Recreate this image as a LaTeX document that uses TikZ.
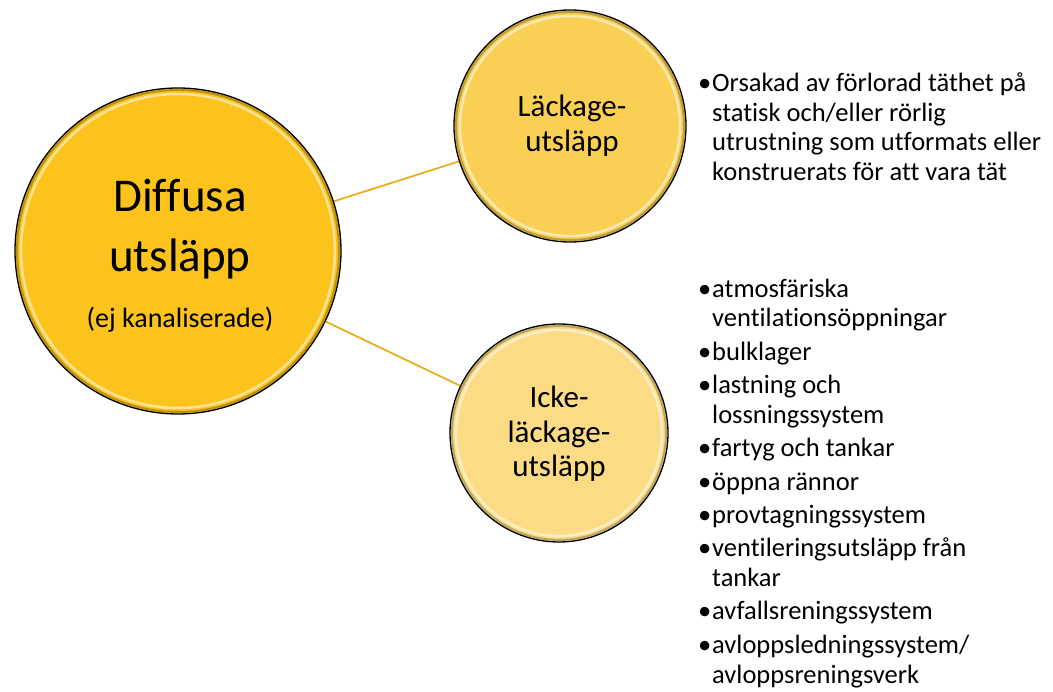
\documentclass[tikz,border=0pt]{standalone}
\usepackage{fontspec}
\setmainfont{Carlito}[Ligatures={NoCommon,NoContextual}]
\definecolor{bigc}{HTML}{FBC31B}
\definecolor{topc}{HTML}{F9CF54}
\definecolor{botc}{HTML}{FBDB84}
\definecolor{linec}{HTML}{E6B01E}
\newcommand{\bul}{\makebox[14pt][l]{•}}
\newcommand{\cont}{\hspace*{14pt}}
\tikzset{
  bubble/.style={circle, draw=black, line width=1.3pt, inner sep=0pt},
  conn/.style={draw=linec, line width=1.8pt},
  lst/.style={anchor=base west, align=left, inner sep=0pt},
  lbl/.style={anchor=base, inner sep=0pt}
}
\newcommand{\gloss}[2]{%
  \draw[white, opacity=0.55, line width=2.5pt] (#1) circle[radius=#2-6];
  \draw[black, opacity=0.25, line width=2pt] (#1) circle[radius=#2-2];
}
\begin{document}
\begin{tikzpicture}[x=1pt,y=-1pt]
\useasboundingbox (0,0) rectangle (1053,692);
\coordinate (cb) at (178,251);
\coordinate (ct) at (570,126);
\coordinate (cl) at (559,433);
% connectors
\node[bubble, minimum size=326pt, draw=none] (big0) at (cb) {};
\node[bubble, minimum size=232pt, draw=none] (top0) at (ct) {};
\node[bubble, minimum size=218pt, draw=none] (bot0) at (cl) {};
\draw[conn] (big0) -- (top0);
\draw[conn] (big0) -- (bot0);
% circles
\node[bubble, fill=bigc, minimum size=326pt] (big) at (cb) {};
\gloss{cb}{163}
\node[bubble, fill=topc, minimum size=232pt] (top) at (ct) {};
\gloss{ct}{116}
\node[bubble, fill=botc, minimum size=218pt] (bot) at (cl) {};
\gloss{cl}{109}
% big labels
\node[lbl, font=\fontsize{47}{56}\selectfont] (b1) at (180,212) {Diffusa};
\node[lbl, font=\fontsize{47}{56}\selectfont] (b2) at (180,272) {utsläpp};
\node[lbl, font=\fontsize{28}{34}\selectfont] (b3) at (180,328) {(ej kanaliserade)};
% top labels
\node[lbl, font=\fontsize{31}{35}\selectfont] (t1) at (572,117) {Läckage-};
\node[lbl, font=\fontsize{31}{35}\selectfont] (t2) at (572,152) {utsläpp};
% bottom labels
\node[lbl, font=\fontsize{31}{35}\selectfont] (l1) at (559,408) {Icke-};
\node[lbl, font=\fontsize{31}{35}\selectfont] (l2) at (559,443) {läckage-};
\node[lbl, font=\fontsize{31}{35}\selectfont] (l3) at (559,477) {utsläpp};
% lists (base anchor = baseline of last line)
\node[lst, font=\fontsize{26.5}{29.5}\selectfont] (list1) at (698,180.5) {\bul Orsakad av förlorad täthet på\\
\cont statisk och/eller rörlig\\
\cont utrustning som utformats eller\\
\cont konstruerats för att vara tät};
\node[lst, font=\fontsize{26.5}{29.7}\selectfont] (list2) at (698,683) {\bul atmosfäriska\\
\cont ventilationsöppningar\\[3.7pt]
\bul bulklager\\[3.7pt]
\bul lastning och\\
\cont lossningssystem\\[3.7pt]
\bul fartyg och tankar\\[3.7pt]
\bul öppna rännor\\[3.7pt]
\bul provtagningssystem\\[3.7pt]
\bul ventileringsutsläpp från\\
\cont tankar\\[3.7pt]
\bul avfallsreningssystem\\[3.7pt]
\bul avloppsledningssystem/\\
\cont avloppsreningsverk};
\end{tikzpicture}
\end{document}
